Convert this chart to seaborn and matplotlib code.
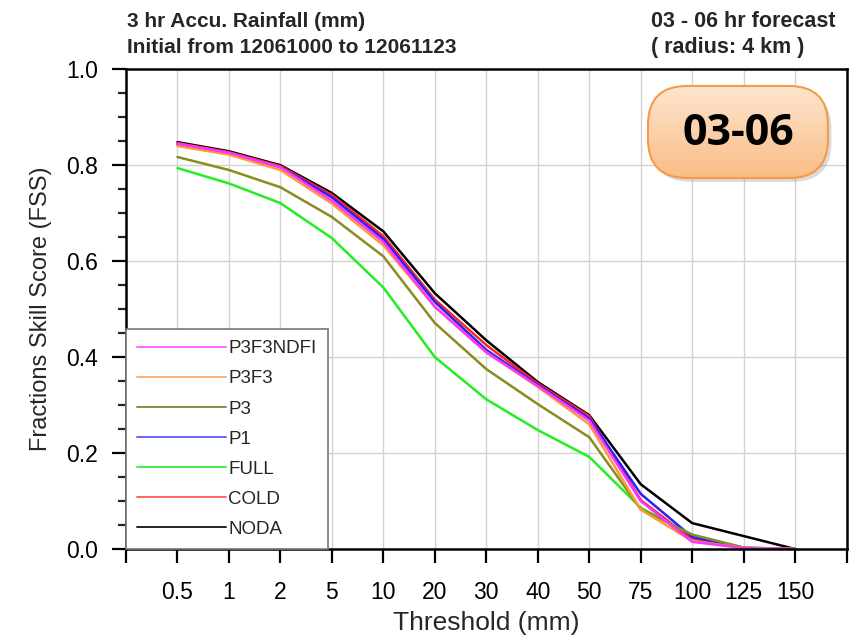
import matplotlib
matplotlib.use("Agg")
import matplotlib.pyplot as plt
from matplotlib.patches import FancyBboxPatch
from matplotlib.lines import Line2D
from matplotlib.colors import LinearSegmentedColormap
import numpy as np
import pandas as pd
import seaborn as sns

thresholds = ["0.5", "1", "2", "5", "10", "20", "30", "40", "50", "75", "100", "125", "150"]
experiments = ["P3F3NDFI", "P3F3", "P3", "P1", "FULL", "COLD", "NODA"]

fss_p3f3ndfi = [0.845, 0.826, 0.796, 0.726, 0.640, 0.505, 0.410, 0.340, 0.268, 0.100, 0.015, 0.002, 0.0]
fss_p3f3 = [0.840, 0.822, 0.790, 0.720, 0.633, 0.505, 0.410, 0.338, 0.260, 0.082, 0.017, 0.002, 0.0]
fss_p3 = [0.817, 0.790, 0.754, 0.692, 0.610, 0.471, 0.375, 0.302, 0.233, 0.083, 0.030, 0.003, 0.0]
fss_p1 = [0.843, 0.825, 0.796, 0.733, 0.646, 0.515, 0.415, 0.342, 0.272, 0.115, 0.025, 0.002, 0.0]
fss_full = [0.794, 0.762, 0.721, 0.648, 0.545, 0.400, 0.312, 0.248, 0.192, 0.086, 0.029, 0.003, 0.0]
fss_cold = [0.846, 0.827, 0.798, 0.738, 0.652, 0.520, 0.425, 0.345, 0.277, 0.102, 0.020, 0.002, 0.0]
fss_noda = [0.848, 0.829, 0.800, 0.742, 0.662, 0.533, 0.435, 0.348, 0.279, 0.135, 0.054, 0.027, 0.0]

series = {
    "P3F3NDFI": fss_p3f3ndfi, "P3F3": fss_p3f3, "P3": fss_p3, "P1": fss_p1,
    "FULL": fss_full, "COLD": fss_cold, "NODA": fss_noda,
}
colors = {
    "P3F3NDFI": "#ff33ff", "P3F3": "#ff9933", "P3": "#8b8b22", "P1": "#2222ff",
    "FULL": "#22ee22", "COLD": "#ff2222", "NODA": "#000000",
}
legend_colors = {
    "P3F3NDFI": "#ff66ff", "P3F3": "#ffb070", "P3": "#8b8b44", "P1": "#6666ff",
    "FULL": "#44ee44", "COLD": "#ff6666", "NODA": "#222222",
}

rows = []
for name, vals in series.items():
    for i, v in enumerate(vals):
        rows.append({"exp": name, "pos": i + 1, "fss": v})
df = pd.DataFrame(rows)

sns.set_theme(style="white")
plt.rcParams["font.family"] = ["Liberation Sans", "DejaVu Sans"]

fig = plt.figure(figsize=(8.63, 6.41), dpi=100)
ax = fig.add_axes([0.146, 0.1435, 0.835, 0.7485])

draw_order = ["NODA", "COLD", "FULL", "P1", "P3", "P3F3", "P3F3NDFI"]
sns.lineplot(data=df, x="pos", y="fss", hue="exp", hue_order=draw_order,
             palette=colors, linewidth=1.8, legend=False, ax=ax)

ax.set_xlim(0, 14)
ax.set_ylim(0, 1.0)
ax.set_xticks(range(0, 15))
ax.set_xticklabels([""] + thresholds + [""])
ax.set_yticks(np.arange(0, 1.01, 0.2))
ax.set_yticklabels([f"{v:.1f}" for v in np.arange(0, 1.01, 0.2)])
ax.set_yticks(np.arange(0, 1.001, 0.05), minor=True)
ax.tick_params(axis="both", which="major", direction="out", length=10, width=1.6,
               colors="black", labelsize=16.5)
ax.tick_params(axis="x", pad=13)
ax.tick_params(axis="y", pad=10)
ax.tick_params(axis="y", which="minor", direction="out", length=6, width=1.6, left=True)
ax.tick_params(bottom=True, left=True)
ax.grid(True, which="major", color="#d3d3d3", linewidth=1.0)
for s in ax.spines.values():
    s.set_color("black")
    s.set_linewidth(1.8)
ax.set_xlabel("Threshold (mm)", fontsize=19, labelpad=5)
ax.set_ylabel("Fractions Skill Score (FSS)", fontsize=17, labelpad=10)

handles = [Line2D([0], [0], color=legend_colors[n], lw=1.4) for n in experiments]
leg = ax.legend(handles, experiments, loc="lower left", bbox_to_anchor=(0.0, 0.0),
                fontsize=13.5, handlelength=4.75, handletextpad=0.1, labelspacing=0.69,
                borderpad=0.6, borderaxespad=0.0, fancybox=False, framealpha=1)
leg.get_frame().set_edgecolor("#777777")
leg.get_frame().set_linewidth(1.2)

fig.text(0.147, 0.958, "3 hr Accu. Rainfall (mm)", fontsize=15, fontweight="bold", va="baseline")
fig.text(0.147, 0.917, "Initial from 12061000 to 12061123", fontsize=15, fontweight="bold", va="baseline")
fig.text(0.754, 0.958, "03 - 06 hr forecast", fontsize=15.5, fontweight="bold", va="baseline")
fig.text(0.754, 0.917, "( radius: 4 km )", fontsize=15.5, fontweight="bold", va="baseline")

# orange rounded badge with gradient
bx0, by0, bw, bh = 648 / 863, 1 - 178 / 641, 180 / 863, 92 / 641
shadow = FancyBboxPatch((bx0 + 0.004, by0 - 0.006), bw, bh,
                        boxstyle="round,pad=0,rounding_size=0.045",
                        transform=fig.transFigure, facecolor="#999999", edgecolor="none",
                        alpha=0.35, zorder=5, mutation_aspect=863 / 641)
fig.add_artist(shadow)
badge = FancyBboxPatch((bx0, by0), bw, bh, boxstyle="round,pad=0,rounding_size=0.045",
                       transform=fig.transFigure, facecolor="none", edgecolor="#f59a48",
                       linewidth=1.5, zorder=7, mutation_aspect=863 / 641)
fig.add_artist(badge)
grad_ax = fig.add_axes([bx0, by0, bw, bh], zorder=6)
grad_ax.axis("off")
grad = np.linspace(0, 1, 100).reshape(-1, 1)
cmap = LinearSegmentedColormap.from_list("badge", ["#fde5d0", "#fbbd85"])
im = grad_ax.imshow(grad, aspect="auto", cmap=cmap, extent=[0, 1, 0, 1], origin="upper")
clip = FancyBboxPatch((bx0, by0), bw, bh, boxstyle="round,pad=0,rounding_size=0.045",
                      transform=fig.transFigure, facecolor="none", edgecolor="none",
                      mutation_aspect=863 / 641)
im.set_clip_path(clip)
fig.text(bx0 + bw / 2, by0 + bh / 2 - 0.003, "03-06", fontsize=31, fontweight="bold",
         family=["Open Sans", "DejaVu Sans"], color="black", ha="center", va="center", zorder=8)

fig.savefig("out.png", dpi=100)
